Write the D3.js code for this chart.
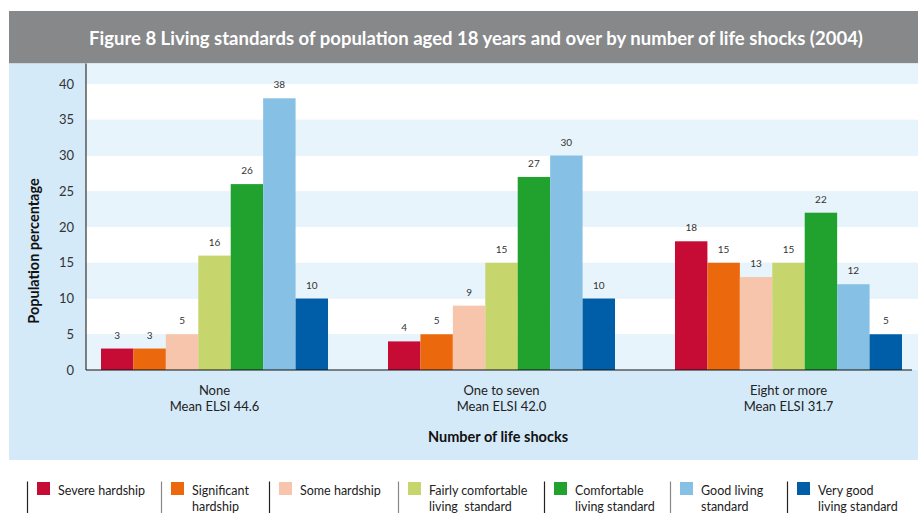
<!DOCTYPE html>
<html>
<head>
<meta charset="utf-8">
<script src="https://cdn.jsdelivr.net/npm/d3@7"></script>
<style>
  html, body { margin: 0; padding: 0; background: #fff; }
  svg { display: block; font-family: Lato, "Open Sans", sans-serif; }
</style>
</head>
<body>
<svg id="chart" width="918" height="513"></svg>
<script>
// Groups on the x axis (two-line labels)
const groups = ["None", "One to seven", "Eight or more"];
const groupSubLabels = ["Mean ELSI 44.6", "Mean ELSI 42.0", "Mean ELSI 31.7"];

// Living standard series
const series = [
  "Severe hardship",
  "Significant hardship",
  "Some hardship",
  "Fairly comfortable living standard",
  "Comfortable living standard",
  "Good living standard",
  "Very good living standard"
];
const legendLines = [
  ["Severe hardship"],
  ["Significant", "hardship"],
  ["Some hardship"],
  ["Fairly comfortable", "living  standard"],
  ["Comfortable", "living standard"],
  ["Good living", "standard"],
  ["Very good", "living standard"]
];
const colors = ["#c60c35", "#ec680d", "#f7c5ab", "#c7d56d", "#21a22f", "#86c1e5", "#005ea8"];

// Population percentage per group, one array per group in series order
const valuesNone = [3, 3, 5, 16, 26, 38, 10];
const valuesOneToSeven = [4, 5, 9, 15, 27, 30, 10];
const valuesEightPlus = [18, 15, 13, 15, 22, 12, 5];
const groupValues = [valuesNone, valuesOneToSeven, valuesEightPlus];

const yTicks = [0, 5, 10, 15, 20, 25, 30, 35, 40];

const svg = d3.select("#chart");

// Title banner
svg.append("rect").attr("x", 9).attr("y", 11).attr("width", 909).attr("height", 52.5).attr("fill", "#87888a");
svg.append("text")
  .attr("x", 476).attr("y", 45)
  .attr("text-anchor", "middle")
  .attr("fill", "#fff")
  .attr("font-weight", "bold")
  .attr("font-size", 18.5)
  .text("Figure 8 Living standards of population aged 18 years and over by number of life shocks (2004)");

// Light blue panel behind the chart
svg.append("rect").attr("x", 9).attr("y", 63.5).attr("width", 909).attr("height", 396.5).attr("fill", "#d5eaf8");

const plotLeft = 86, plotRight = 918, plotTop = 63.5, plotBottom = 370;

const y = d3.scaleLinear().domain([0, 40]).range([plotBottom, 84]);
const x0 = d3.scaleBand().domain(groups).range([101, 902]).paddingInner(0.209).paddingOuter(0);
const x1 = d3.scaleBand().domain(series).range([0, x0.bandwidth()]).padding(0);

// Alternating horizontal bands every 5 units
const bandStarts = d3.range(0, 45, 5);
svg.append("g").selectAll("rect")
  .data(bandStarts)
  .join("rect")
  .attr("x", plotLeft)
  .attr("width", plotRight - plotLeft)
  .attr("y", d => Math.max(plotTop, y(d + 5)))
  .attr("height", d => y(d) - Math.max(plotTop, y(d + 5)))
  .attr("fill", d => (d / 5) % 2 === 0 ? "#e8f4fb" : "#ffffff");

// Bars
const gGroups = svg.append("g").selectAll("g")
  .data(groups)
  .join("g")
  .attr("transform", d => `translate(${x0(d)},0)`);

gGroups.selectAll("rect")
  .data((g, i) => groupValues[i].map((v, j) => ({ s: series[j], v, c: colors[j] })))
  .join("rect")
  .attr("x", d => x1(d.s))
  .attr("width", x1.bandwidth())
  .attr("y", d => y(d.v))
  .attr("height", d => y(0) - y(d.v))
  .attr("fill", d => d.c);

// Value labels above bars
gGroups.selectAll("text")
  .data((g, i) => groupValues[i].map((v, j) => ({ s: series[j], v })))
  .join("text")
  .attr("x", d => x1(d.s) + x1.bandwidth() / 2)
  .attr("y", d => y(d.v) - 10)
  .attr("text-anchor", "middle")
  .attr("font-size", 10)
  .attr("fill", "#333")
  .text(d => d.v);

// Y axis
const yAxis = d3.axisLeft(y).tickValues(yTicks).tickSize(0).tickPadding(12);
const gy = svg.append("g").attr("transform", `translate(${plotLeft},0)`).call(yAxis);
gy.select(".domain").remove();
gy.selectAll("text").attr("font-size", 13).attr("fill", "#333").attr("font-family", "Lato, sans-serif");
svg.append("line").attr("x1", plotLeft).attr("x2", plotLeft).attr("y1", plotTop).attr("y2", plotBottom)
  .attr("stroke", "#333").attr("stroke-width", 1.2);

// X axis baseline
svg.append("line").attr("x1", plotLeft).attr("x2", 912).attr("y1", plotBottom).attr("y2", plotBottom)
  .attr("stroke", "#111").attr("stroke-width", 1.2);

// Group labels
const gx = svg.append("g");
groups.forEach((g, i) => {
  const cx = x0(g) + x0.bandwidth() / 2;
  const t = gx.append("text").attr("text-anchor", "middle").attr("font-size", 13).attr("fill", "#222");
  t.append("tspan").attr("x", cx).attr("y", 395).text(g);
  t.append("tspan").attr("x", cx).attr("y", 411).text(groupSubLabels[i]);
});

// Axis titles
svg.append("text")
  .attr("x", 498).attr("y", 442)
  .attr("text-anchor", "middle")
  .attr("font-weight", "bold").attr("font-size", 14.5).attr("fill", "#111")
  .text("Number of life shocks");

svg.append("text")
  .attr("transform", "translate(39,251) rotate(-90)")
  .attr("text-anchor", "middle")
  .attr("font-weight", "bold").attr("font-size", 14.5).attr("fill", "#111")
  .text("Population percentage");

// Legend
const legendX = [27, 161, 269, 398, 544, 670, 787];
const legend = svg.append("g").selectAll("g")
  .data(series)
  .join("g")
  .attr("transform", (d, i) => `translate(${legendX[i]},0)`);

legend.append("line")
  .attr("x1", 0.5).attr("x2", 0.5).attr("y1", 481.5).attr("y2", 513)
  .attr("stroke", (d, i) => i % 2 === 0 ? "#222" : "#888").attr("stroke-width", 1.2);
legend.append("rect")
  .attr("x", 10).attr("y", 482).attr("width", 13).attr("height", 13)
  .attr("fill", (d, i) => colors[i]);
legend.append("text")
  .attr("font-size", 12.5).attr("fill", "#222")
  .each(function (d, i) {
    const t = d3.select(this);
    legendLines[i].forEach((line, k) => {
      t.append("tspan").attr("x", 31).attr("y", 495 + k * 16).attr("xml:space", "preserve").text(line);
    });
  });
</script>
</body>
</html>
